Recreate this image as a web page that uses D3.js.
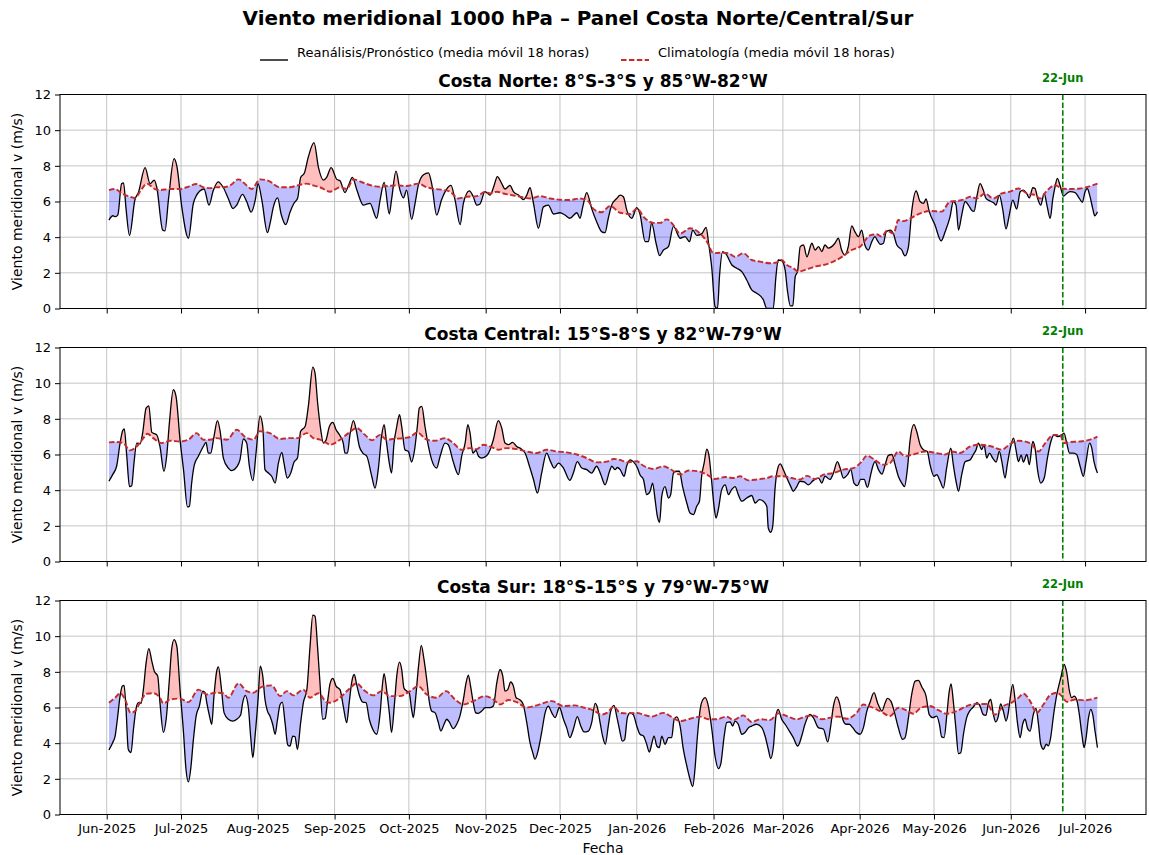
<!DOCTYPE html>
<html><head><meta charset="utf-8">
<script src="https://cdn.jsdelivr.net/npm/d3@7"></script>
<style>
body{margin:0;background:#fff;}
svg{font-family:"DejaVu Sans",sans-serif;}
</style></head>
<body><svg id="c" width="1149" height="855"></svg>
<script>
// días desde 2025-06-01 (UTC), valor v (m/s)
const inicio = Date.UTC(2025,5,1);
const lineaVertical = "2026-06-22";
const yTicks = [0,2,4,6,8,10,12];

const norte = [[0.9,4.96],[2.5,5.2],[3.5,5.15],[4.5,5.25],[6.0,7.0],[6.8,7.05],[7.8,5.6],[9.2,4.1],[11.4,6.1],[12.8,6.5],[15.5,7.9],[17.5,7.0],[19.2,7.2],[20.2,6.8],[22.6,4.4],[23.5,4.35],[25.0,6.2],[27.2,8.4],[28.3,8.0],[30.3,5.7],[33.0,3.94],[35.0,5.9],[37.7,6.6],[39.3,6.7],[41.3,5.8],[43.0,6.6],[45.0,7.1],[47.0,6.8],[49.0,6.2],[51.0,5.6],[52.5,5.8],[54.8,6.4],[56.5,6.0],[58.3,5.4],[60.0,6.1],[61.1,7.0],[62.6,6.1],[64.9,4.25],[66.0,4.8],[67.3,5.7],[69.0,6.2],[70.4,5.3],[72.3,4.7],[74.0,5.4],[75.6,5.9],[77.1,6.2],[78.3,7.35],[79.8,7.6],[81.4,8.5],[83.7,9.3],[85.5,7.9],[87.5,7.2],[88.8,7.35],[90.6,7.9],[92.9,7.24],[94.2,7.16],[96.2,6.5],[97.6,6.9],[99.2,7.35],[101.0,6.64],[103.6,5.8],[106.3,5.9],[109.0,5.06],[110.4,6.1],[112.0,7.07],[114.1,5.3],[115.0,6.1],[116.8,7.7],[118.4,6.64],[119.8,6.2],[121.1,6.64],[123.1,5.0],[124.5,5.9],[125.8,6.9],[127.9,7.5],[129.9,7.6],[131.2,7.0],[133.2,5.24],[135.2,6.1],[137.0,6.64],[139.0,6.9],[140.6,6.1],[142.7,4.7],[144.0,5.9],[146.4,6.6],[148.0,6.27],[149.4,5.8],[150.7,5.86],[152.7,6.55],[154.8,6.36],[156.4,6.9],[157.7,7.4],[159.5,7.0],[160.8,6.7],[162.8,6.9],[164.2,6.55],[166.2,6.36],[168.3,6.1],[169.6,6.36],[170.9,6.77],[172.3,5.9],[174.3,4.5],[176.3,5.7],[178.3,5.8],[180.4,5.3],[183.0,5.37],[185.0,5.24],[187.0,5.06],[189.8,5.37],[191.1,5.06],[192.2,5.7],[193.8,6.5],[195.8,5.6],[197.8,4.87],[199.9,4.3],[201.2,4.25],[202.5,5.06],[203.9,5.8],[205.9,6.17],[207.3,6.36],[208.6,6.27],[210.0,5.5],[212.0,5.06],[214.0,5.65],[215.3,5.3],[217.4,3.75],[218.7,3.75],[220.0,4.8],[221.8,3.66],[223.2,2.97],[224.8,3.28],[226.8,3.47],[228.8,4.6],[231.5,3.94],[233.5,4.03],[235.3,3.75],[236.6,4.4],[238.2,4.1],[240.3,4.2],[242.0,4.55],[243.0,3.66],[244.3,2.26],[245.6,0.1],[246.6,0.0],[247.4,1.8],[248.7,3.19],[250.0,3.06],[252.4,2.44],[254.4,2.26],[256.4,2.07],[258.4,1.6],[260.4,1.04],[262.4,0.86],[265.1,0.49],[266.5,0.0],[269.1,0.0],[270.2,1.8],[271.1,2.72],[272.5,2.68],[273.9,2.16],[274.8,1.04],[276.0,0.15],[277.0,0.15],[278.0,1.8],[278.9,2.07],[280.0,3.47],[281.3,3.56],[282.7,2.9],[284.7,3.66],[286.0,3.28],[287.4,3.47],[288.7,3.19],[290.0,3.56],[291.4,3.38],[292.7,3.47],[294.0,3.66],[295.4,3.94],[296.7,3.28],[298.0,3.0],[299.4,3.47],[300.8,4.63],[302.1,4.3],[303.5,4.03],[304.8,4.4],[306.1,3.56],[307.5,3.28],[308.9,3.75],[310.2,4.03],[311.2,3.8],[312.3,3.6],[313.6,3.66],[314.7,4.3],[316.3,4.4],[317.6,4.2],[319.0,3.56],[321.0,3.28],[322.3,2.95],[323.7,3.47],[325.0,5.43],[326.8,6.59],[328.4,6.0],[329.7,5.9],[330.8,6.14],[332.1,5.43],[334.4,4.68],[336.9,3.79],[338.5,4.3],[340.5,5.15],[341.8,6.0],[342.9,5.8],[343.9,4.4],[345.2,5.24],[346.6,6.0],[347.9,5.8],[349.3,5.5],[350.2,5.45],[351.3,6.27],[352.6,7.0],[353.9,6.64],[355.0,6.17],[356.6,6.03],[358.3,5.9],[359.0,5.8],[360.4,6.36],[361.7,5.6],[363.1,4.46],[364.4,5.24],[365.8,6.08],[367.4,5.58],[368.8,6.55],[370.1,6.64],[371.4,6.45],[372.5,6.2],[373.9,6.77],[374.8,6.73],[375.8,6.2],[377.1,5.8],[378.5,6.45],[379.6,5.8],[380.9,5.05],[382.0,6.17],[382.9,6.83],[383.8,7.3],[384.9,6.9],[386.3,6.3],[387.6,6.45],[389.0,6.55],[391.0,6.5],[392.7,6.17],[393.9,5.95],[395.0,6.55],[395.9,6.73],[397.0,6.27],[398.1,5.6],[398.9,5.2],[400.0,5.43]];

const norteClim = [[0.9,6.64],[3.4,6.7],[6.1,6.45],[9.4,6.27],[11.4,6.2],[14.1,6.7],[16.2,7.0],[19.5,6.7],[21.5,6.64],[25.6,6.7],[29.6,6.7],[32.3,6.8],[36.3,6.98],[39.0,6.8],[41.7,6.75],[44.4,6.8],[47.1,6.8],[49.8,6.9],[53.2,7.24],[56.5,6.9],[58.5,6.7],[61.9,7.24],[65.3,7.16],[70.0,6.8],[74.0,6.8],[77.0,6.9],[80.8,7.0],[83.4,6.9],[86.1,6.8],[90.2,6.55],[94.2,6.8],[96.9,6.7],[99.6,7.24],[103.6,7.05],[107.7,6.87],[110.4,6.83],[113.7,6.87],[117.1,6.9],[121.1,6.87],[125.8,7.0],[129.2,6.8],[132.6,6.7],[135.9,6.65],[138.6,6.55],[142.0,6.17],[145.4,6.27],[149.4,6.3],[152.8,6.55],[154.8,6.45],[157.5,6.55],[160.2,6.45],[163.5,6.36],[166.9,6.27],[171.0,6.17],[175.0,6.3],[179.0,6.17],[183.0,6.1],[186.9,6.08],[191.0,6.17],[194.5,6.0],[196.4,5.6],[199.8,5.4],[203.2,5.75],[207.3,5.37],[211.3,5.3],[214.0,5.6],[217.3,5.06],[220.7,4.8],[223.4,4.8],[226.1,5.0],[228.8,4.68],[231.5,4.2],[235.5,4.5],[239.6,4.2],[242.3,3.75],[245.0,3.1],[247.6,3.13],[251.0,3.1],[253.7,2.9],[257.1,3.1],[260.4,2.72],[263.8,2.63],[267.8,2.54],[270.5,2.58],[272.5,2.72],[274.6,2.44],[277.2,2.26],[279.3,2.07],[282.7,2.2],[286.0,2.35],[289.4,2.44],[293.4,2.63],[297.4,2.95],[300.8,3.28],[304.2,3.47],[308.2,4.1],[310.9,4.16],[312.9,4.03],[315.0,4.36],[317.7,4.2],[319.6,4.96],[321.7,4.9],[324.4,5.05],[328.4,5.33],[332.4,5.47],[337.1,5.43],[340.5,6.0],[343.2,6.03],[345.9,6.1],[348.6,6.27],[351.3,6.17],[354.6,6.45],[358.0,6.17],[361.4,6.45],[364.7,6.55],[368.1,6.73],[371.5,6.45],[374.8,6.36],[376.9,6.17],[379.5,6.59],[382.9,6.92],[385.6,6.73],[389.0,6.7],[393.0,6.73],[396.4,6.83],[400.0,7.0]];

const central = [[0.9,4.5],[2.4,4.87],[4.0,5.34],[5.4,6.64],[6.5,7.35],[7.1,7.43],[8.1,5.9],[9.2,4.2],[10.1,4.25],[11.0,5.5],[12.1,6.64],[13.5,6.6],[14.5,7.2],[15.9,8.6],[17.0,8.73],[18.2,7.24],[20.2,7.1],[21.5,6.45],[23.1,5.06],[24.2,5.9],[25.3,7.76],[26.9,9.63],[28.0,9.25],[29.6,6.83],[31.0,5.15],[32.6,3.06],[33.4,3.1],[34.3,4.4],[35.4,5.43],[37.0,5.9],[39.0,6.45],[40.1,6.68],[41.0,6.08],[42.0,6.08],[43.3,7.0],[44.7,7.9],[45.8,7.3],[47.1,5.8],[49.1,5.24],[50.5,5.1],[52.5,5.3],[53.8,5.7],[55.2,6.87],[56.5,6.64],[57.6,5.34],[59.0,4.53],[60.3,6.1],[61.9,8.17],[63.0,7.57],[63.9,5.15],[65.3,4.96],[66.6,4.78],[68.0,4.4],[69.3,5.5],[70.7,6.12],[71.6,5.5],[72.9,4.68],[74.3,4.96],[75.6,5.56],[77.0,5.8],[78.3,7.3],[80.1,7.57],[81.4,8.7],[83.2,10.9],[84.1,10.56],[85.1,8.97],[86.4,7.4],[87.5,6.64],[88.6,6.83],[89.9,7.57],[91.3,7.8],[92.6,7.39],[94.2,7.05],[95.5,6.64],[96.2,6.08],[97.2,6.08],[98.2,7.1],[99.6,7.9],[100.7,7.39],[102.0,6.45],[103.4,6.08],[105.0,5.9],[107.0,4.78],[108.3,4.12],[109.7,5.24],[111.0,7.05],[112.0,7.67],[113.0,6.64],[114.1,5.52],[115.0,4.96],[116.0,6.64],[117.1,7.57],[118.2,8.23],[119.1,7.57],[120.4,6.27],[121.8,6.17],[123.1,5.58],[124.2,6.17],[125.4,7.57],[126.2,8.6],[127.2,8.7],[128.5,7.57],[129.9,6.45],[131.2,5.7],[133.2,5.24],[134.6,5.9],[136.6,6.64],[137.9,6.55],[139.9,5.6],[142.0,4.87],[143.3,5.9],[144.7,6.64],[145.8,7.67],[146.7,7.2],[147.8,6.08],[149.1,6.23],[150.1,5.9],[151.4,5.8],[153.4,5.93],[154.8,6.27],[156.1,6.83],[158.1,7.9],[159.5,7.48],[160.8,6.64],[162.2,6.55],[163.9,6.68],[165.5,6.45],[167.5,6.3],[168.9,6.08],[170.9,5.24],[172.3,4.6],[173.9,3.84],[175.6,4.96],[177.6,6.08],[179.2,5.6],[180.6,5.24],[182.4,5.52],[184.4,5.24],[187.0,4.55],[188.4,4.96],[190.0,5.6],[191.8,5.24],[193.8,5.15],[195.8,4.96],[197.8,5.34],[199.5,4.87],[201.2,4.3],[203.0,5.06],[203.9,5.34],[205.2,5.15],[206.2,5.27],[207.3,5.15],[208.9,4.78],[209.9,5.34],[211.3,5.7],[212.6,5.6],[214.3,5.24],[215.3,4.87],[216.7,4.6],[218.0,3.75],[219.4,3.94],[220.4,4.4],[221.4,3.47],[222.3,2.54],[223.2,2.2],[224.1,3.66],[225.4,4.2],[226.8,3.56],[227.7,3.75],[228.8,4.96],[229.8,5.06],[231.2,5.06],[232.5,4.2],[234.2,3.28],[235.5,2.72],[236.9,2.63],[238.2,3.1],[239.3,3.38],[240.2,4.78],[241.2,5.52],[242.3,6.3],[243.2,5.9],[244.3,4.4],[245.2,3.1],[246.0,2.44],[246.9,2.9],[248.3,4.03],[249.7,4.3],[251.0,3.75],[252.3,4.03],[253.7,4.2],[255.0,3.75],[256.4,3.38],[258.4,3.56],[260.4,3.7],[261.8,3.28],[263.5,3.47],[265.1,3.38],[266.5,3.1],[267.1,1.88],[268.1,1.64],[268.9,1.98],[269.8,4.03],[270.8,5.15],[271.9,5.47],[273.2,5.15],[274.6,4.68],[276.2,4.2],[277.2,3.94],[278.6,4.2],[279.9,4.5],[281.6,4.46],[283.3,4.3],[285.3,4.55],[287.4,4.68],[288.7,4.4],[290.0,4.78],[292.0,4.6],[293.4,4.96],[295.0,5.6],[296.1,5.24],[297.4,4.68],[299.1,4.87],[300.4,5.15],[301.7,4.4],[303.1,4.25],[304.4,4.6],[305.8,4.6],[307.1,4.16],[308.5,4.9],[309.2,5.3],[310.2,5.6],[311.6,5.15],[313.0,4.9],[314.3,5.43],[315.6,5.95],[317.0,6.0],[318.3,5.43],[319.6,4.78],[321.0,4.4],[322.1,4.2],[323.3,5.24],[324.3,6.73],[325.9,7.67],[327.0,7.3],[328.4,6.55],[329.7,6.27],[331.3,6.17],[332.4,5.43],[334.0,4.78],[335.1,4.87],[336.5,4.5],[337.8,4.12],[339.1,5.24],[340.8,6.36],[341.8,5.43],[342.9,4.5],[343.9,3.94],[345.2,4.87],[346.6,5.6],[348.6,5.7],[349.9,6.0],[351.0,6.27],[351.9,6.64],[353.3,6.27],[354.2,6.55],[355.3,5.8],[356.4,6.08],[357.7,5.8],[359.1,5.58],[360.4,6.17],[361.4,5.6],[362.7,4.68],[363.6,5.43],[364.7,6.27],[366.1,6.92],[367.1,6.27],[368.1,5.6],[369.2,5.97],[370.1,5.58],[371.5,6.0],[372.5,5.43],[373.9,6.73],[374.8,6.36],[375.9,5.05],[377.1,4.4],[378.5,4.68],[379.8,5.8],[381.2,6.73],[382.5,7.1],[383.9,7.0],[385.6,7.1],[386.5,7.2],[387.6,6.64],[388.7,6.08],[390.3,6.08],[391.6,6.0],[393.0,5.34],[394.3,4.78],[395.4,5.6],[396.8,6.64],[397.7,6.36],[398.6,5.6],[400.0,4.96]];

const centralClim = [[0.9,6.68],[4.0,6.7],[6.7,6.64],[9.4,6.23],[12.1,6.45],[14.8,6.92],[16.4,7.16],[18.8,6.92],[22.2,6.64],[25.6,6.77],[29.6,6.73],[33.0,6.83],[36.3,7.2],[39.0,6.83],[41.7,6.83],[44.4,6.92],[48.5,6.83],[52.5,7.39],[55.9,6.98],[59.2,6.83],[61.9,7.3],[65.9,7.2],[70.0,6.87],[74.0,6.92],[77.0,6.92],[80.8,7.2],[83.4,6.92],[86.1,6.83],[88.8,6.64],[90.2,6.55],[94.2,6.83],[97.6,7.2],[100.9,7.48],[104.3,7.1],[107.0,6.8],[110.4,7.1],[113.0,6.83],[115.7,6.87],[119.8,6.92],[122.5,6.98],[125.4,7.24],[129.2,6.83],[132.6,6.77],[136.6,6.92],[139.9,6.64],[143.3,6.27],[146.7,6.36],[149.4,6.3],[152.1,6.55],[154.8,6.45],[158.1,6.27],[161.5,6.36],[165.5,6.3],[169.6,6.17],[173.6,6.08],[177.6,6.27],[181.7,6.17],[185.7,6.12],[189.8,6.0],[193.8,5.8],[197.8,5.56],[201.9,5.6],[204.6,5.75],[207.3,5.7],[210.0,5.56],[214.0,5.62],[216.7,5.37],[220.7,5.19],[224.8,5.34],[227.5,5.19],[231.5,4.87],[234.9,5.1],[238.9,5.06],[242.3,4.87],[245.6,4.63],[249.7,4.74],[253.0,4.68],[255.7,4.78],[259.1,4.55],[262.4,4.6],[266.5,4.68],[269.1,4.78],[273.2,4.78],[276.6,4.68],[279.9,4.6],[282.6,4.8],[286.0,4.63],[289.4,4.87],[293.4,4.96],[297.4,5.15],[301.5,5.24],[304.8,5.6],[306.9,5.93],[309.6,5.75],[313.6,5.43],[316.3,5.52],[319.6,6.17],[322.3,5.9],[325.7,6.0],[330.4,6.17],[335.1,6.08],[338.5,6.0],[341.2,6.17],[344.5,6.08],[348.6,6.45],[352.6,6.55],[357.3,6.45],[361.4,6.27],[364.7,6.59],[368.1,6.77],[372.8,6.64],[376.2,6.17],[378.9,6.64],[382.3,7.1],[385.0,7.1],[386.3,6.64],[389.0,6.7],[393.0,6.73],[397.0,6.83],[400.0,7.0]];

const sur = [[0.9,3.62],[2.4,4.03],[3.4,4.4],[4.3,5.34],[5.4,6.64],[6.3,7.2],[7.0,7.24],[7.8,5.9],[8.7,3.66],[9.8,3.47],[10.8,4.78],[11.8,5.9],[12.8,6.27],[13.9,6.23],[14.8,7.0],[15.9,8.5],[17.0,9.3],[18.2,8.6],[19.2,8.04],[20.6,7.76],[21.5,6.27],[22.9,4.6],[24.0,5.34],[25.3,7.57],[26.2,9.25],[27.2,9.81],[28.3,9.44],[29.6,7.0],[31.0,4.6],[32.0,2.54],[33.0,1.83],[33.9,2.54],[35.0,4.2],[36.1,5.52],[37.4,6.08],[38.8,6.92],[39.7,6.83],[40.4,6.27],[41.5,5.52],[42.4,5.06],[43.3,6.64],[44.4,8.04],[45.1,8.28],[46.2,7.2],[47.4,5.7],[49.1,5.34],[50.9,5.24],[52.5,5.34],[54.1,5.6],[54.9,6.27],[55.9,6.68],[57.2,6.0],[58.1,4.4],[59.0,3.19],[59.9,4.4],[61.2,6.64],[62.0,8.32],[63.0,7.76],[63.9,6.45],[64.9,5.8],[65.9,5.52],[67.0,5.06],[68.0,4.5],[68.9,5.27],[70.0,6.17],[70.9,6.3],[72.0,5.15],[73.1,3.9],[74.0,3.84],[75.1,4.4],[76.0,4.37],[77.0,3.66],[78.3,5.15],[79.4,6.27],[80.8,7.0],[82.1,9.44],[83.2,11.18],[84.1,11.12],[85.1,9.44],[86.1,7.39],[87.2,5.34],[88.2,5.38],[89.1,6.27],[90.2,7.35],[91.3,7.63],[92.6,7.2],[94.2,7.0],[95.5,6.08],[96.9,5.15],[97.9,6.27],[99.0,7.48],[99.9,7.85],[100.9,7.3],[101.9,6.73],[103.4,6.3],[104.7,6.27],[106.0,5.34],[107.4,4.78],[109.0,4.5],[110.4,5.7],[111.4,7.39],[112.0,7.9],[113.0,7.0],[114.1,5.7],[115.0,4.6],[116.1,6.08],[117.1,7.76],[118.2,8.54],[119.1,8.13],[120.0,7.1],[121.1,6.92],[122.1,6.83],[123.1,5.9],[123.8,5.43],[124.8,6.64],[125.9,8.32],[127.0,9.48],[128.1,8.7],[129.2,7.57],[130.3,6.27],[131.2,5.8],[132.6,5.7],[133.9,5.15],[134.9,4.68],[136.2,5.06],[137.3,5.34],[138.3,5.19],[139.9,4.81],[141.3,5.06],[142.6,5.52],[144.0,6.45],[145.1,7.39],[146.0,7.82],[146.9,7.2],[148.0,6.27],[149.0,5.7],[150.0,5.67],[151.4,5.8],[152.8,5.99],[154.8,5.99],[156.1,6.08],[157.5,7.39],[158.8,8.13],[159.9,7.76],[160.8,6.92],[161.9,7.0],[163.1,7.43],[164.2,7.2],[165.3,6.55],[166.6,6.45],[168.0,6.23],[169.6,5.15],[170.9,4.03],[172.0,3.47],[172.9,3.1],[174.3,3.66],[175.6,4.6],[177.0,5.7],[178.3,6.08],[179.7,5.7],[181.0,5.43],[182.8,6.0],[184.4,5.34],[185.7,4.87],[187.0,4.31],[188.4,4.78],[190.0,5.49],[191.4,4.96],[192.7,4.63],[194.5,4.68],[195.8,5.15],[197.2,6.23],[198.1,6.0],[199.2,5.15],[200.2,4.4],[201.3,3.94],[202.5,4.96],[203.5,5.8],[204.8,6.12],[205.9,5.52],[207.0,4.78],[208.2,4.12],[209.1,4.2],[210.2,5.43],[211.3,5.7],[212.6,5.6],[214.0,4.96],[215.3,4.5],[216.7,4.4],[217.8,4.03],[219.1,3.5],[220.0,3.94],[221.0,4.4],[222.1,3.84],[223.1,3.75],[224.1,4.4],[225.4,3.94],[226.8,4.31],[228.1,4.31],[229.1,5.34],[230.1,5.47],[231.5,4.96],[232.8,3.66],[234.2,2.72],[235.5,1.98],[236.6,1.57],[237.5,2.54],[238.5,4.4],[239.6,5.9],[240.6,6.42],[241.6,6.55],[242.9,6.08],[244.3,4.78],[245.6,3.28],[247.0,2.57],[247.9,2.82],[249.3,4.4],[250.3,5.15],[251.7,5.19],[252.7,4.96],[253.7,5.24],[255.0,5.06],[256.4,4.5],[257.7,4.6],[259.1,4.87],[260.4,4.96],[262.4,5.06],[264.5,4.87],[265.8,4.4],[267.1,3.66],[268.1,3.13],[269.2,3.84],[270.2,5.52],[271.1,5.9],[272.5,5.34],[273.9,5.06],[275.6,4.68],[277.2,4.31],[279.0,3.84],[280.6,4.4],[281.9,5.06],[283.9,5.62],[285.3,5.43],[287.3,4.87],[289.4,4.78],[291.1,4.07],[292.3,4.96],[293.4,6.08],[294.7,6.6],[295.8,6.27],[297.1,5.37],[298.5,5.06],[299.8,5.06],[301.2,4.87],[302.5,4.63],[304.2,4.5],[305.5,4.87],[306.9,5.8],[308.2,6.3],[309.8,6.83],[311.2,6.27],[313.0,5.8],[314.3,6.27],[315.2,6.51],[316.6,6.36],[317.9,5.8],[319.6,4.87],[321.3,4.22],[322.3,4.3],[323.7,5.43],[325.0,6.73],[326.4,7.48],[327.7,7.52],[329.1,7.15],[330.8,6.64],[332.1,5.6],[333.5,5.43],[335.1,5.52],[336.2,5.06],[337.1,4.35],[338.1,4.31],[339.2,5.6],[340.1,6.83],[340.9,7.33],[341.8,6.35],[342.8,4.9],[343.9,3.41],[344.8,3.46],[345.9,4.5],[347.2,5.43],[348.6,5.84],[349.9,6.03],[351.3,6.27],[352.6,6.08],[353.9,5.6],[355.0,5.56],[356.0,6.27],[356.9,6.45],[358.0,5.6],[358.9,5.2],[360.0,5.52],[360.9,6.2],[362.0,5.8],[363.1,5.24],[364.0,5.71],[364.7,6.45],[365.8,7.3],[366.8,6.35],[367.7,5.15],[368.8,4.31],[369.8,5.06],[370.8,5.34],[371.7,4.87],[372.8,4.68],[374.1,5.6],[375.2,5.95],[376.2,5.05],[377.1,3.94],[378.2,3.66],[379.3,3.94],[380.2,3.85],[381.1,4.31],[382.3,5.6],[383.6,6.73],[385.2,7.67],[386.6,8.41],[387.6,7.95],[388.7,6.92],[389.6,6.55],[390.6,6.64],[391.6,6.45],[392.7,5.6],[393.7,4.5],[394.6,3.75],[395.4,4.3],[396.4,5.43],[397.3,5.9],[398.1,5.6],[399.0,4.7],[400.0,3.75]];

const surClim = [[0.9,6.27],[3.4,6.55],[5.4,6.8],[7.4,6.45],[9.7,5.7],[11.4,5.8],[14.1,6.45],[15.9,6.77],[18.8,6.8],[21.5,6.55],[22.9,6.23],[25.6,6.45],[29.6,6.5],[33.0,6.3],[37.0,7.0],[40.4,6.73],[43.7,6.83],[47.1,6.8],[49.1,6.55],[53.2,7.35],[56.5,6.92],[59.2,6.83],[62.6,7.16],[66.6,7.24],[70.0,6.64],[72.7,6.92],[75.4,6.68],[79.4,7.0],[82.1,6.55],[85.5,6.8],[88.8,6.3],[90.2,6.27],[94.2,6.55],[97.6,7.0],[100.9,7.35],[104.3,6.92],[107.7,6.68],[111.0,6.92],[114.4,6.64],[118.4,6.64],[122.5,6.92],[125.8,7.2],[129.2,6.73],[133.2,6.55],[137.0,6.92],[140.6,6.45],[144.0,6.17],[148.0,6.36],[152.8,6.64],[156.1,6.45],[158.8,6.17],[162.2,6.42],[165.5,6.3],[169.6,6.0],[173.6,6.12],[179.7,6.36],[184.4,6.08],[189.1,6.12],[192.4,6.0],[196.5,5.84],[199.8,5.6],[201.9,5.7],[204.8,6.04],[207.3,5.7],[210.0,5.67],[214.0,5.7],[216.7,5.6],[220.0,5.49],[224.8,5.7],[227.5,5.52],[231.5,5.24],[235.5,5.37],[239.6,5.49],[242.9,5.34],[246.3,5.34],[250.3,5.49],[253.0,5.3],[257.0,5.56],[260.4,5.19],[263.8,5.34],[267.8,5.3],[271.2,5.67],[274.6,5.52],[278.6,5.34],[281.9,5.49],[285.3,5.56],[288.7,5.34],[292.1,5.43],[295.4,5.49],[298.8,5.37],[302.8,5.7],[305.5,6.17],[308.2,6.05],[312.2,5.8],[316.3,5.52],[319.6,5.99],[322.9,5.84],[325.6,5.65],[328.9,5.99],[332.4,6.08],[335.8,5.85],[339.2,5.65],[343.2,5.8],[347.2,6.08],[351.3,6.2],[355.3,6.2],[358.6,5.6],[362.0,6.08],[365.4,6.27],[368.1,6.55],[370.1,6.77],[372.8,6.36],[375.5,5.7],[378.2,6.17],[380.9,6.7],[383.6,6.83],[385.6,6.64],[387.6,6.32],[391.0,6.45],[394.4,6.4],[397.1,6.45],[400.0,6.55]];

const paneles = [
  {titulo:"Costa Norte: 8°S-3°S y 85°W-82°W", serie:norte, clim:norteClim},
  {titulo:"Costa Central: 15°S-8°S y 82°W-79°W", serie:central, clim:centralClim},
  {titulo:"Costa Sur: 18°S-15°S y 79°W-75°W", serie:sur, clim:surClim}
];

const svg = d3.select("#c");
const dia = d => new Date(inicio + d*864e5);
const L = 60, R = 1146, H = 214;
const tops = [94.5, 347.5, 600.5];
const colClim = "#c42b2b";
const x = d3.scaleUtc().domain([dia(-18.86), dia(419.6)]).range([L, R]);
const meses = d3.utcMonth.range(dia(-18.86), dia(419.6));
const fmt = d3.utcFormat("%b-%Y");
const xv = x(d3.utcParse("%Y-%m-%d")(lineaVertical));

svg.append("text").attr("x",578).attr("y",25).attr("text-anchor","middle")
  .attr("font-size",19.9).attr("font-weight","bold").text("Viento meridional 1000 hPa – Panel Costa Norte/Central/Sur");

// legend
const lg = svg.append("g");
lg.append("line").attr("x1",260).attr("x2",288).attr("y1",60).attr("y2",60).attr("stroke","#000").attr("stroke-width",1.4);
lg.append("text").attr("x",297).attr("y",57).attr("font-size",13).text("Reanálisis/Pronóstico (media móvil 18 horas)");
lg.append("line").attr("x1",621).attr("x2",649).attr("y1",60).attr("y2",60).attr("stroke",colClim).attr("stroke-width",1.9).attr("stroke-dasharray","5.5,2.4");
lg.append("text").attr("x",658).attr("y",57).attr("font-size",13).text("Climatología (media móvil 18 horas)");

paneles.forEach((p,i)=>{
  const top = tops[i], bot = top + H;
  const y = d3.scaleLinear().domain([0,12]).range([bot, top]);
  const g = svg.append("g");
  const cid = "clip"+i;
  const defs = svg.append("defs");
  defs.append("clipPath").attr("id",cid).append("rect").attr("x",L).attr("y",top).attr("width",R-L).attr("height",H);
  const areaArriba = d3.area().x(d=>x(dia(d[0]))).y0(top-50).y1(d=>y(d[1])).curve(d3.curveMonotoneX);
  const areaAbajo = d3.area().x(d=>x(dia(d[0]))).y0(bot+50).y1(d=>y(d[1])).curve(d3.curveMonotoneX);
  defs.append("clipPath").attr("id","sobre"+i).append("path").attr("d",areaArriba(p.clim));
  defs.append("clipPath").attr("id","bajo"+i).append("path").attr("d",areaAbajo(p.clim));

  // grid
  g.selectAll(".gy").data(yTicks).enter().append("line")
    .attr("x1",L).attr("x2",R).attr("y1",d=>y(d)).attr("y2",d=>y(d))
    .attr("stroke","#c4c4c4").attr("stroke-width",1);
  g.selectAll(".gx").data(meses).enter().append("line")
    .attr("x1",d=>x(d)).attr("x2",d=>x(d)).attr("y1",top).attr("y2",bot)
    .attr("stroke","#c4c4c4").attr("stroke-width",1);

  const pg = g.append("g").attr("clip-path",`url(#${cid})`);
  pg.append("g").attr("clip-path",`url(#sobre${i})`).append("path")
    .attr("d",areaAbajo(p.serie)).attr("fill","rgba(255,0,0,0.25)");
  pg.append("g").attr("clip-path",`url(#bajo${i})`).append("path")
    .attr("d",areaArriba(p.serie)).attr("fill","rgba(0,0,255,0.25)");
  const linea = d3.line().x(d=>x(dia(d[0]))).y(d=>y(d[1])).curve(d3.curveMonotoneX);
  pg.append("path").attr("d",linea(p.serie)).attr("fill","none").attr("stroke","#000").attr("stroke-width",1.3);
  pg.append("path").attr("d",linea(p.clim)).attr("fill","none").attr("stroke",colClim).attr("stroke-width",1.9).attr("stroke-dasharray","5.5,2.4");

  // vertical line
  g.append("line").attr("x1",xv).attr("x2",xv).attr("y1",top).attr("y2",bot)
    .attr("stroke","#008000").attr("stroke-width",1.6).attr("stroke-dasharray","5.5,2.4");
  g.append("text").attr("x",xv).attr("y",top-13).attr("text-anchor","middle")
    .attr("font-size",11.5).attr("font-weight","bold").attr("fill","#008000").text("22-Jun");

  // frame
  g.append("rect").attr("x",L).attr("y",top).attr("width",R-L).attr("height",H)
    .attr("fill","none").attr("stroke","#000").attr("stroke-width",1);

  // axes
  const ya = d3.axisLeft(y).tickValues(yTicks).tickSize(5).tickPadding(4);
  const yg = g.append("g").attr("transform",`translate(${L},0)`).call(ya);
  yg.select(".domain").remove();
  yg.selectAll("text").attr("font-size",13).attr("font-family","DejaVu Sans");
  const xa = d3.axisBottom(x).tickValues(meses).tickSize(5).tickPadding(4)
    .tickFormat(i===2 ? fmt : ()=> "");
  const xg = g.append("g").attr("transform",`translate(0,${bot})`).call(xa);
  xg.select(".domain").remove();
  xg.selectAll("text").attr("font-size",13).attr("font-family","DejaVu Sans");

  g.append("text").attr("x",(L+R)/2).attr("y",top-8).attr("text-anchor","middle")
    .attr("font-size",17).attr("font-weight","bold").text(p.titulo);
  g.append("text").attr("transform",`translate(22,${top+H/2}) rotate(-90)`).attr("text-anchor","middle")
    .attr("font-size",14).text("Viento meridional v (m/s)");
});
svg.append("text").attr("x",(L+R)/2).attr("y",853).attr("text-anchor","middle").attr("font-size",14).text("Fecha");
</script></body></html>
